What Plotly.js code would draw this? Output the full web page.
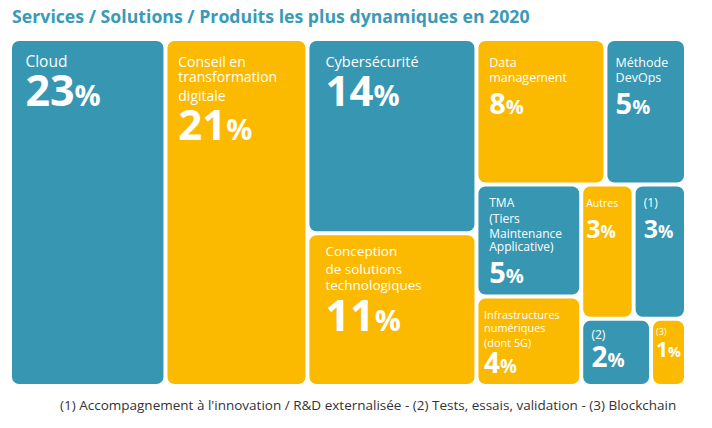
<!DOCTYPE html>
<html>
<head>
<meta charset="utf-8">
<script src="https://cdn.plot.ly/plotly-3.0.1.min.js"></script>
<style>html,body{margin:0;padding:0;background:#fff;}#chart{width:712px;height:428px;}</style>
</head>
<body>
<div id="chart"></div>
<script>
// ---- data ----
const ids     = ["root","Cloud","Conseil","G1","Cyber","Conception","G2","G2top","Data","DevOps","G2bot","G3","TMA","Infra","G4","G4top","Autres","P1","G4bot","P2","P3"];
const parents = ["","root","root","root","G1","G1","root","G2","G2top","G2top","G2","G2bot","G3","G3","G2bot","G4","G4top","G4top","G4","G4bot","G4bot"];
const labels  = ["","Cloud","Conseil en<br>transformation<br>digitale","","Cybersécurité","Conception<br>de solutions<br>technologiques","","","Data<br>management","Méthode<br>DevOps","","","TMA<br>(Tiers<br>Maintenance<br>Applicative)","Infrastructures<br>numériques<br>(dont 5G)","","","Autres","(1)","","(2)","(3)"];
const values  = [0,23,21,0,14,11,0,0,8,5,0,0,5,4,0,0,3,3,0,2,1];
const titleText = "Services / Solutions / Produits les plus dynamiques en 2020";
const footnote = "(1) Accompagnement à l'innovation / R&amp;D externalisée - (2) Tests, essais, validation - (3) Blockchain";

// ---- styles (per tile: label size, label line gap, first baseline offset, pct baseline offset, pct size, left inset) ----
const TEAL = "#3796b2", YELLOW = "#fbb900";
const colorOf = {Cloud:TEAL,Conseil:YELLOW,Cyber:TEAL,Conception:YELLOW,Data:YELLOW,DevOps:TEAL,TMA:TEAL,Infra:YELLOW,Autres:YELLOW,P1:TEAL,P2:TEAL,P3:YELLOW};
const style = {
  Cloud:      {ls:15.5, lg:17, fb:25, pb:65, ps:43, ix:13},
  Conseil:    {ls:14,   lg:17, fb:25, pb:99, ps:42, ix:10},
  Cyber:      {ls:14.5, lg:17, fb:25, pb:65, ps:42, ix:16},
  Conception: {ls:13.5, lg:16, fb:22, pb:95, ps:43, ix:15},
  Data:       {ls:12.5, lg:16, fb:25, pb:72, ps:29, ix:12},
  DevOps:     {ls:12.5, lg:16, fb:25, pb:72, ps:29, ix:8},
  TMA:        {ls:12,   lg:15, fb:21, pb:97, ps:29, ix:12},
  Infra:      {ls:11,   lg:15, fb:20, pb:75, ps:28, ix:6},
  Autres:     {ls:10.5, lg:15, fb:21, pb:52, ps:25, ix:3},
  P1:         {ls:12,   lg:15, fb:21, pb:52, ps:25, ix:7},
  P2:         {ls:12,   lg:15, fb:19, pb:48, ps:28, ix:7},
  P3:         {ls:12,   lg:15, fb:19, pb:48, ps:28, ix:3}
};
const BASE = 2, STEP = BASE * 1.3, PAD = 3, ASC = 1.07 * BASE;
const NB = "\u00a0";
const kOf = o => Math.max(1, Math.round((o - PAD - ASC) / STEP));

const colors = [], texts = [];
ids.forEach((id, i) => {
  const isLeaf = values[i] > 0;
  colors.push(isLeaf ? colorOf[id] : "rgba(0,0,0,0)");
  if (!isLeaf) { texts.push(""); return; }
  const s = style[id];
  const inset = "<span style='font-size:10px'>" + NB.repeat(Math.max(0, Math.round((s.ix - PAD) / 2.6))) + "</span>";
  const lines = [];
  const put = (k, content) => { while (lines.length <= k) lines.push(NB); lines[k] = content; };
  labels[i].split("<br>").forEach((l, j) => {
    put(kOf(s.fb + j * s.lg), inset + "<span style='font-size:" + s.ls + "px'>" + l + "</span>");
  });
  put(kOf(s.pb), inset + "<b><span style='font-size:" + s.ps + "px'>" + values[i] + "</span>" +
                 "<span style='font-size:" + Math.round(s.ps * 0.68) + "px'>%</span></b>");
  texts.push(lines.join("<br>"));
});

const trace = {
  type: "treemap",
  ids: ids, parents: parents, values: values,
  labels: ids.map(() => ""),          // names are drawn through texttemplate
  branchvalues: "remainder",
  sort: false,
  texttemplate: texts,
  textposition: "top left",
  textfont: {family: "Open Sans, sans-serif", color: "#ffffff", size: BASE},
  hoverinfo: "skip",
  pathbar: {visible: false},
  tiling: {packing: "slice-dice", pad: 4},
  marker: {colors: colors, line: {width: 0}, cornerradius: 7, pad: {t: 0, l: 0, r: 0, b: 0}},
  root: {color: "rgba(0,0,0,0)"}
};

const layout = {
  width: 712, height: 428,
  margin: {l: 12, r: 28, t: 41, b: 44},
  paper_bgcolor: "#fff",
  title: {text: "<b>" + titleText + "</b>", x: 0.017, xanchor: "left", y: 0.960, yanchor: "middle",
          font: {family: "Open Sans, sans-serif", size: 17.7, color: "#3a9ab7"}},
  annotations: [{text: footnote, xref: "paper", yref: "paper", x: 0.991, y: -0.061, xanchor: "right", yanchor: "middle",
                 showarrow: false, font: {family: "Open Sans, sans-serif", size: 13.5, color: "#333333"}}]
};
Plotly.newPlot("chart", [trace], layout, {displayModeBar: false, staticPlot: true});
</script>
</body>
</html>
